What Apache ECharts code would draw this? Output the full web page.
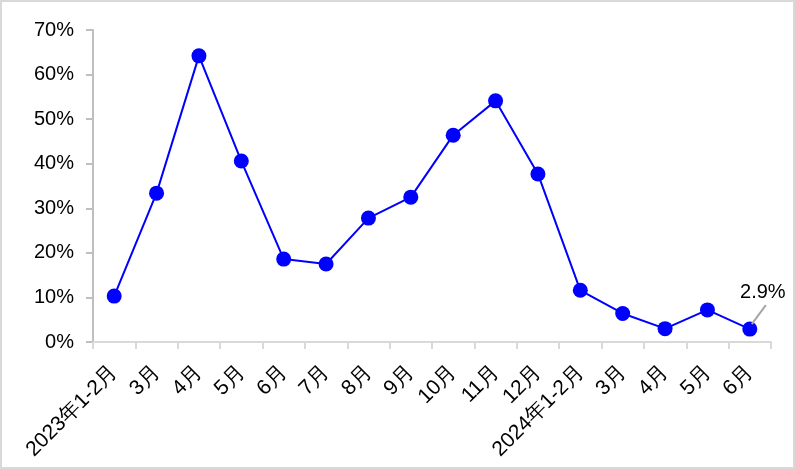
<!DOCTYPE html>
<html><head><meta charset="utf-8">
<script src="https://cdn.jsdelivr.net/npm/echarts@6/dist/echarts.min.js"></script>
<style>
html,body{margin:0;padding:0;background:#fff;}
#wrap{position:relative;width:795px;height:469px;}
#chart{position:absolute;left:0;top:0;width:795px;height:469px;}
#frame{position:absolute;left:0;top:0;width:795px;height:469px;box-sizing:border-box;border:2px solid #d9d9d9;pointer-events:none;}
</style></head>
<body>
<div id="wrap"><div id="chart"></div><div id="frame"></div></div>
<script>
const categories = ['2023年1-2月','3月','4月','5月','6月','7月','8月','9月','10月','11月','12月','2024年1-2月','3月','4月','5月','6月'];
const values = [10.3, 33.4, 64.2, 40.6, 18.6, 17.5, 27.8, 32.5, 46.4, 54.1, 37.7, 11.6, 6.4, 3.0, 7.2, 2.9];
const yTicks = [0, 10, 20, 30, 40, 50, 60, 70];
const annotatedIndex = 15;

const font = '"Liberation Sans", Arial, sans-serif';

const chart = echarts.init(document.getElementById('chart'), null, {renderer: 'canvas'});
chart.setOption({
  animation: false,
  grid: {left: 93, right: 24, top: 30, bottom: 127, containLabel: false},
  xAxis: {
    type: 'category',
    data: categories,
    boundaryGap: true,
    axisLine: {show: true, lineStyle: {color: '#d9d9d9', width: 2}},
    axisTick: {show: true, length: 7, lineStyle: {color: '#d9d9d9', width: 2}},
    axisLabel: {rotate: 45, fontSize: 21, color: '#000', fontFamily: font, margin: 27, interval: 0}
  },
  yAxis: {
    type: 'value',
    min: yTicks[0], max: yTicks[yTicks.length - 1], interval: 10,
    axisLine: {show: true, lineStyle: {color: '#bfbfbf', width: 2}},
    axisTick: {show: true, length: 7, lineStyle: {color: '#bfbfbf', width: 2}},
    splitLine: {show: false},
    axisLabel: {fontSize: 20, color: '#000', fontFamily: font, margin: 19, formatter: v => v + '%'}
  },
  series: [{
    type: 'line',
    data: values,
    symbol: 'circle',
    symbolSize: 15,
    itemStyle: {color: '#0000ff'},
    lineStyle: {color: '#0000ff', width: 2}
  }]
});

// annotation for the last point, anchored to the library's own coordinate conversion
const p = chart.convertToPixel({seriesIndex: 0}, [annotatedIndex, values[annotatedIndex]]);
chart.setOption({
  graphic: [
    {type: 'line', z: 100, shape: {x1: p[0] + 2, y1: p[1] - 5, x2: p[0] + 16, y2: p[1] - 24},
     style: {stroke: '#a6a6a6', lineWidth: 2}},
    {type: 'text', z: 100, x: p[0] + 13, y: p[1] - 37,
     style: {text: values[annotatedIndex].toFixed(1) + '%', fontSize: 20, fontFamily: font, fill: '#000', align: 'center', verticalAlign: 'middle'}}
  ]
});
</script>
</body></html>
